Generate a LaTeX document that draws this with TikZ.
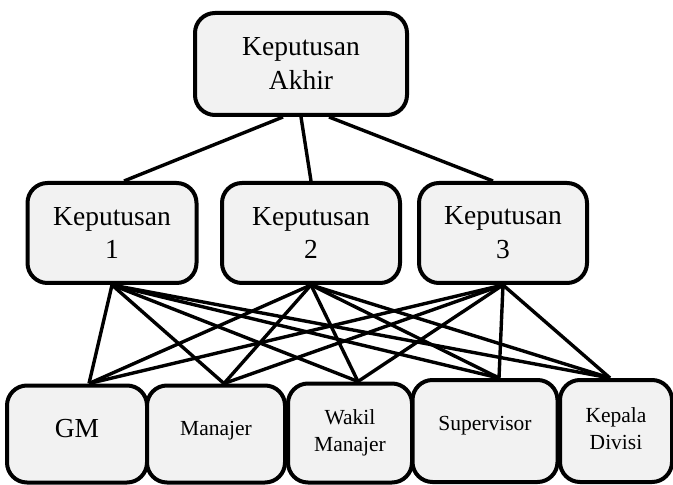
\documentclass[tikz,border=0pt]{standalone}
\usepackage{fontspec}
\setmainfont{Liberation Serif}
\usetikzlibrary{positioning}
\newcommand{\naik}[2]{\raisebox{#1}{\begin{tabular}{@{}c@{}}#2\end{tabular}}}
\tikzset{
  kotak/.style={draw, line width=2pt, rounded corners=10pt, fill=black!5,
    align=center, inner sep=0pt, font=\fontsize{13.75}{17}\selectfont},
  kotakkecil/.style={kotak, font=\fontsize{10.75}{13.5}\selectfont},
  garis/.style={line width=1.7pt}
}
\begin{document}
\begin{tikzpicture}[x=0.5pt,y=-0.5pt]
    \useasboundingbox (0,0) rectangle (673,485);
    \node [kotak, minimum width=106pt, minimum height=51pt] (akhir) at (301,64) {Keputusan\\Akhir};

    \node [kotak, minimum width=84.5pt, minimum height=50pt] (k1) at (112,233) {Keputusan\\1};
    \node [kotak, minimum width=89pt, minimum height=50pt] (k2) at (311,233) {Keputusan\\2};
    \node [kotak, minimum width=84pt, minimum height=50pt] (k3) at (503,233) {Keputusan\\3};

    \node [kotak, minimum width=70pt, minimum height=48.5pt] (gm) at (77,434) {\naik{8.5pt}{GM}};
    \node [kotakkecil, minimum width=69pt, minimum height=48.5pt] (man) at (216,434) {\naik{8pt}{Manajer}};
    \node [kotakkecil, minimum width=62pt, minimum height=49.5pt] (wak) at (350,433) {\naik{3pt}{Wakil\\Manajer}};
    \node [kotakkecil, minimum width=72.5pt, minimum height=51pt] (sup) at (485,431) {\naik{10pt}{Supervisor}};
    \node [kotakkecil, minimum width=56pt, minimum height=51pt] (kep) at (616,431) {\naik{7pt}{Kepala\\Divisi}};

    \draw [garis] ([xshift=-9pt]akhir.south) -- ([xshift=6pt]k1.north);
    \draw [garis] (akhir.south) -- (k2.north);
    \draw [garis] ([xshift=14pt]akhir.south) -- ([xshift=-5pt]k3.north);

    \foreach \m in {k1,k2,k3}
      \foreach \b/\dx in {gm/6pt,man/4pt,wak/4pt,sup/7pt,kep/-3pt}
        \draw [garis] (\m.south) -- ([xshift=\dx]\b.north);
  \end{tikzpicture}
\end{document}
